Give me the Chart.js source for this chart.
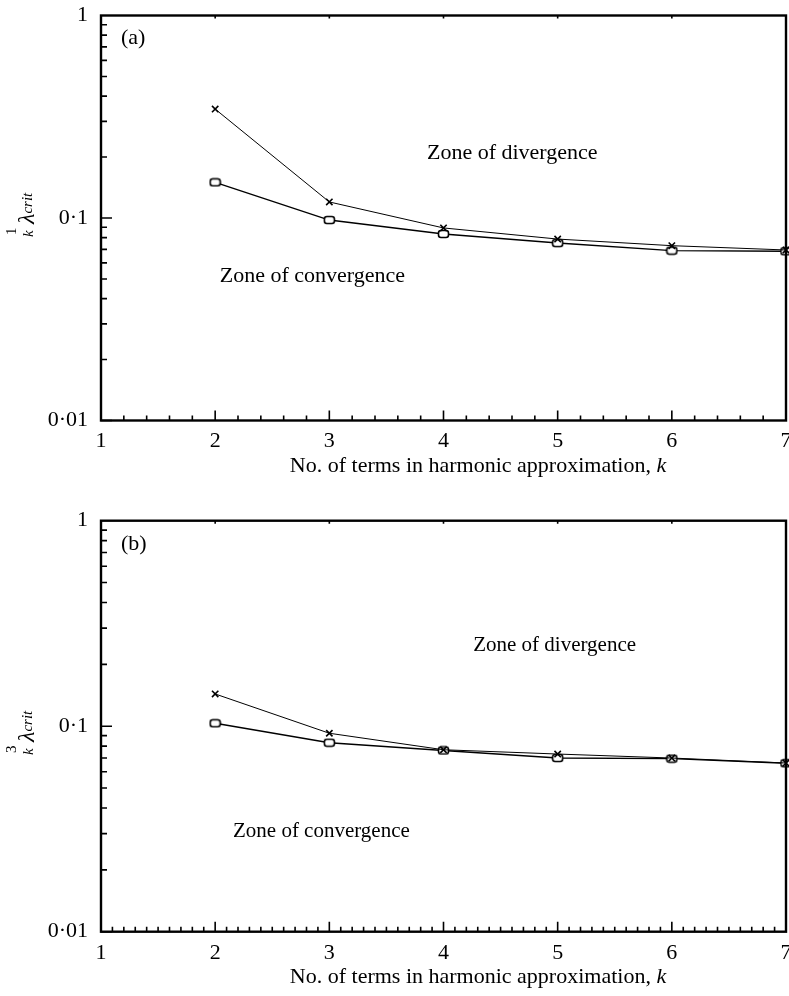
<!DOCTYPE html>
<html><head><meta charset="utf-8">
<script src="https://cdn.jsdelivr.net/npm/chart.js@4.4.1/dist/chart.umd.min.js"></script>
<style>
html,body{margin:0;padding:0;overflow:hidden;background:#fff;width:789px;height:996px}
canvas{position:absolute;left:0}
#c1{top:0}
#c2{top:498px}
</style></head><body>
<canvas id="c1" width="800" height="498"></canvas>
<canvas id="c2" width="800" height="498"></canvas>
<script>
// ---- data ----
const kValues = [2, 3, 4, 5, 6, 7];
const aCross  = [0.345, 0.120, 0.0893, 0.0787, 0.0730, 0.0695];
const aSquare = [0.150, 0.0977, 0.0834, 0.0752, 0.0690, 0.0685];
const bCross  = [0.1435, 0.0924, 0.0768, 0.0732, 0.0700, 0.0662];
const bSquare = [0.1033, 0.0831, 0.0762, 0.0700, 0.0695, 0.0660];
const xTickValues = [1, 2, 3, 4, 5, 6, 7];
const yTickValues = [0.01, 0.1, 1];
const yTickLabels = ['0·01', '0·1', '1'];
const xTitle = 'No. of terms in harmonic approximation, ';
const xTitleItalic = 'k';

const SERIF = '"Liberation Serif", "Times New Roman", serif';

// rounded-rectangle marker
function squareMarker() {
  const c = document.createElement('canvas');
  c.width = 13; c.height = 10;
  const g = c.getContext('2d');
  g.fillStyle = '#fff'; g.strokeStyle = '#000'; g.lineWidth = 1.6;
  const x = 1.5, y = 1.5, w = 10, h = 7, r = 2.5;
  g.beginPath();
  g.moveTo(x + r, y); g.lineTo(x + w - r, y); g.quadraticCurveTo(x + w, y, x + w, y + r);
  g.lineTo(x + w, y + h - r); g.quadraticCurveTo(x + w, y + h, x + w - r, y + h);
  g.lineTo(x + r, y + h); g.quadraticCurveTo(x, y + h, x, y + h - r);
  g.lineTo(x, y + r); g.quadraticCurveTo(x, y, x + r, y);
  g.closePath(); g.fill(); g.stroke();
  return c;
}
const sqImg = squareMarker();

function makePanel(id, cross, square, p) {
  const H = 498;
  const decorations = {
    id: 'decor',
    afterDraw(chart) {
      const {ctx, chartArea: a, scales: {x, y}} = chart;
      ctx.save();
      ctx.strokeStyle = '#000';
      ctx.lineWidth = 2.4;
      ctx.strokeRect(a.left, a.top, a.right - a.left, a.bottom - a.top);
      ctx.lineWidth = 1.6;
      ctx.beginPath();
      // x ticks (inward)
      for (let v = 1; v <= 7.0001; v += p.minorStep) {
        const px = x.getPixelForValue(v);
        const isMajor = Math.abs(v - Math.round(v)) < 1e-6;
        const len = isMajor ? 10 : 5;
        ctx.moveTo(px, a.bottom); ctx.lineTo(px, a.bottom - len);
        if (isMajor) { ctx.moveTo(px, a.top); ctx.lineTo(px, a.top + 3); }
      }
      // y ticks (inward)
      for (const d of [0.01, 0.1]) {
        for (let m = 1; m <= 9; m++) {
          const py = y.getPixelForValue(d * m);
          const len = m === 1 ? 11 : 6;
          ctx.moveTo(a.left, py); ctx.lineTo(a.left + len, py);
        }
      }
      ctx.stroke();

      ctx.fillStyle = '#000';
      // panel label
      ctx.font = '22px ' + SERIF;
      ctx.textAlign = 'left'; ctx.textBaseline = 'middle';
      ctx.fillText(p.label, x.getPixelForValue(p.labelPos[0]), y.getPixelForValue(p.labelPos[1]));
      // zone notes
      ctx.font = p.noteFont + 'px ' + SERIF;
      for (const n of p.notes) {
        ctx.fillText(n.text, x.getPixelForValue(n.k), y.getPixelForValue(n.v));
      }
      // x axis title
      ctx.font = '22px ' + SERIF;
      const w1 = ctx.measureText(xTitle).width;
      ctx.font = 'italic 22px ' + SERIF;
      const w2 = ctx.measureText(xTitleItalic).width;
      const sx = p.titleCx - (w1 + w2) / 2;
      ctx.font = '22px ' + SERIF;
      ctx.fillText(xTitle, sx, p.titleY);
      ctx.font = 'italic 22px ' + SERIF;
      ctx.fillText(xTitleItalic, sx + w1, p.titleY);

      // y axis title (rotated)
      ctx.save();
      ctx.translate(34, p.yTitleBase);
      ctx.rotate(-Math.PI / 2);
      ctx.textBaseline = 'alphabetic';
      ctx.textAlign = 'left';
      ctx.font = '15px ' + SERIF;
      ctx.fillText(p.sup, 2, -18);
      ctx.font = 'italic 15px ' + SERIF;
      ctx.fillText('k', 0, -1);
      ctx.font = 'italic 24px ' + SERIF;
      ctx.fillText('λ', 13, 0);
      const wl = ctx.measureText('λ').width;
      ctx.font = 'italic 15px ' + SERIF;
      ctx.fillText('crit', 13 + wl, -2);
      ctx.restore();

      ctx.restore();
    }
  };

  return new Chart(document.getElementById(id), {
    type: 'line',
    data: {
      datasets: [
        {
          data: kValues.map((k, i) => ({x: k, y: cross[i]})),
          borderColor: '#000', borderWidth: 1, tension: 0, fill: false,
          pointStyle: 'crossRot', pointRadius: 4.5, pointBorderWidth: 1.6,
          pointBorderColor: '#000', pointBackgroundColor: '#000', clip: false
        },
        {
          data: kValues.map((k, i) => ({x: k, y: square[i]})),
          borderColor: '#000', borderWidth: 1.4, tension: 0, fill: false,
          pointStyle: sqImg, pointRadius: 5, clip: false
        }
      ]
    },
    options: {
      responsive: false, animation: false, events: [],
      layout: {padding: {top: p.top, right: 800 - 786, left: 0, bottom: 0}},
      plugins: {legend: {display: false}, tooltip: {enabled: false}},
      scales: {
        x: {
          type: 'linear', min: 1, max: 7,
          grid: {display: false, drawTicks: false}, border: {display: false},
          afterBuildTicks: s => { s.ticks = xTickValues.map(v => ({value: v})); },
          ticks: {font: {family: SERIF, size: 22}, color: '#000', padding: 8, maxRotation: 0, autoSkip: false},
          afterFit: s => { s.height = H - p.bottom; }
        },
        y: {
          type: 'logarithmic', min: 0.01, max: 1,
          grid: {display: false, drawTicks: false}, border: {display: false},
          afterBuildTicks: s => { s.ticks = yTickValues.map(v => ({value: v})); },
          ticks: {
            font: {family: SERIF, size: 22}, color: '#000', padding: 13, autoSkip: false,
            callback: (v) => { const i = yTickValues.findIndex(t => Math.abs(t - v) < 1e-9); return i >= 0 ? yTickLabels[i] : ''; }
          },
          afterFit: s => { s.width = 101; s.paddingTop = 0; s.paddingBottom = 0; }
        }
      }
    },
    plugins: [decorations]
  });
}

makePanel('c1', aCross, aSquare, {
  top: 15.5, bottom: 420.5, minorStep: 0.2,
  label: '(a)', labelPos: [1.175, 0.774],
  noteFont: 22,
  notes: [
    {text: 'Zone of divergence', k: 3.855, v: 0.21},
    {text: 'Zone of convergence', k: 2.04, v: 0.0517}
  ],
  titleCx: 478, titleY: 466,
  yTitleBase: 237, sup: '1'
});
makePanel('c2', bCross, bSquare, {
  top: 22.7, bottom: 433.7, minorStep: 0.1,
  label: '(b)', labelPos: [1.175, 0.771],
  noteFont: 21,
  notes: [
    {text: 'Zone of divergence', k: 4.26, v: 0.248},
    {text: 'Zone of convergence', k: 2.156, v: 0.0309}
  ],
  titleCx: 478, titleY: 479,
  yTitleBase: 257, sup: '3'
});
</script>
</body></html>
